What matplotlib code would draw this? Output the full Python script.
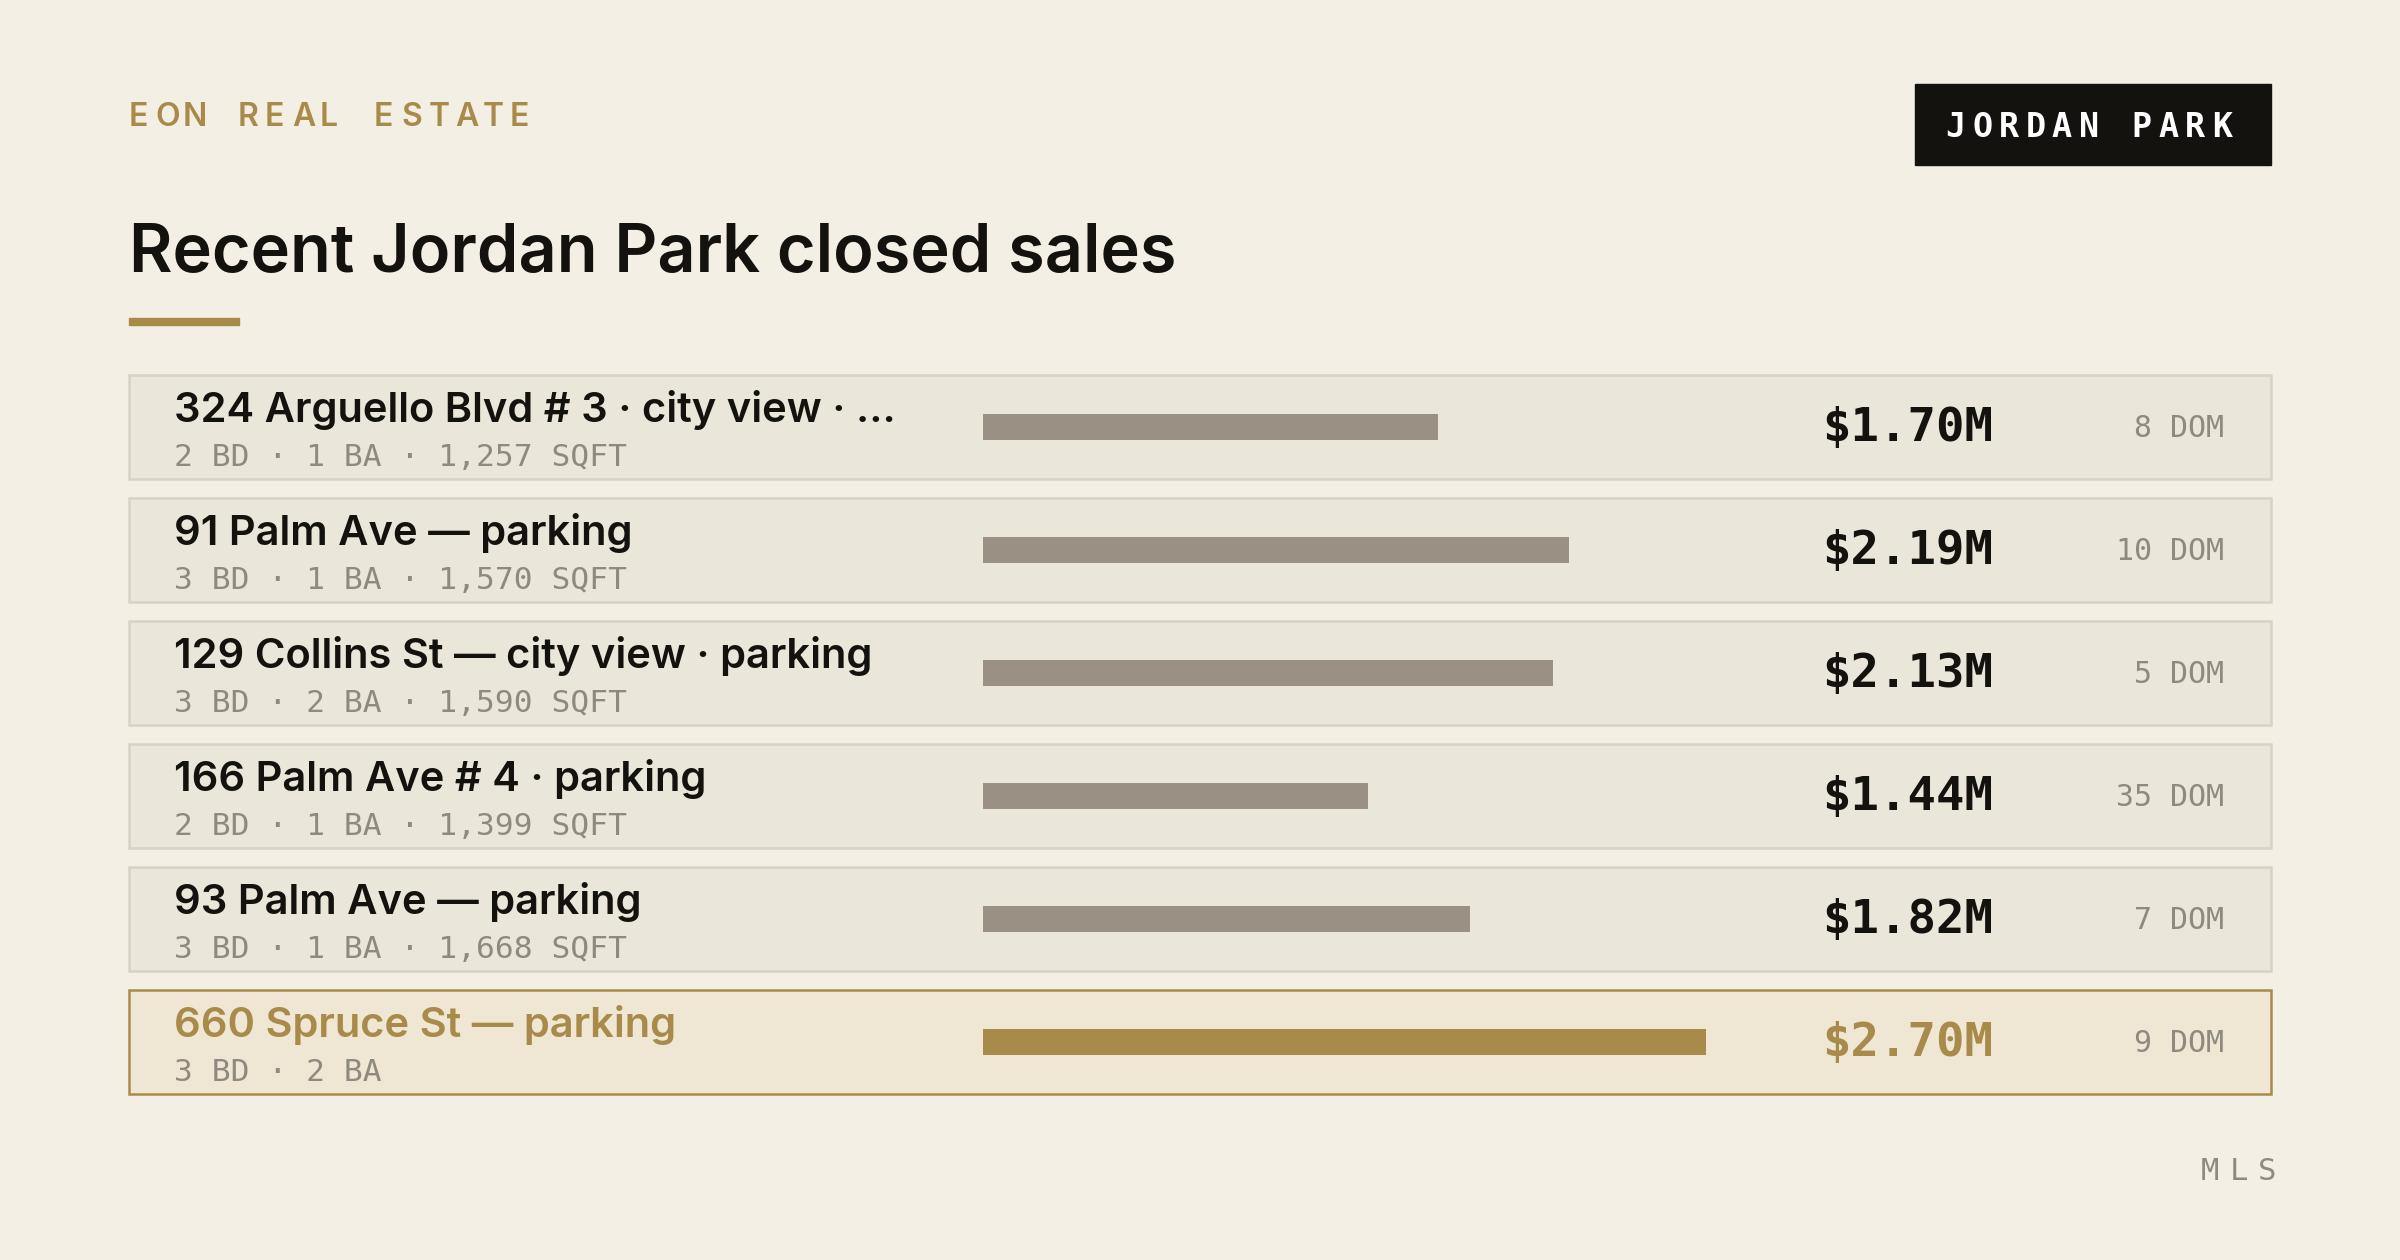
import matplotlib.pyplot as plt
from matplotlib.patches import Rectangle

# === DATA ===
addresses = ["324 Arguello Blvd # 3 \u00b7 city view \u00b7 ...", "91 Palm Ave \u2014 parking",
             "129 Collins St \u2014 city view \u00b7 parking", "166 Palm Ave # 4 \u00b7 parking",
             "93 Palm Ave \u2014 parking", "660 Spruce St \u2014 parking"]
details = ["2 BD \u00b7 1 BA \u00b7 1,257 SQFT", "3 BD \u00b7 1 BA \u00b7 1,570 SQFT",
           "3 BD \u00b7 2 BA \u00b7 1,590 SQFT", "2 BD \u00b7 1 BA \u00b7 1,399 SQFT",
           "3 BD \u00b7 1 BA \u00b7 1,668 SQFT", "3 BD \u00b7 2 BA"]
prices = [1.70, 2.19, 2.13, 1.44, 1.82, 2.70]  # $M
dom = [8, 10, 5, 35, 7, 9]
highlight = 5

BG = "#f3efe4"
ROW = "#ebe6da"
ROW_EDGE = "#d8d2c6"
HI_ROW = "#efe6d4"
GOLD = "#a88a4a"
BAR = "#9a9184"
INK = "#14120e"
GRAY = "#8f8a80"

SANS = ["Inter", "DejaVu Sans"]
MONO = ["DejaVu Sans Mono"]

fig = plt.figure(figsize=(24, 12.6), dpi=100, facecolor=BG)
ax = fig.add_axes([0, 0, 1, 1])
ax.set_xlim(0, 1568)
ax.set_ylim(823, 0)
ax.axis("off")

def tracked(x, y, s, step, right=False, **kw):
    # letter-spaced text drawn char by char
    if right:
        x = x - step * (len(s) - 1)
    for i, ch in enumerate(s):
        ax.text(x + i * step, y, ch, ha="left", va="center", **kw)

# header
tracked(84, 77, "EON REAL ESTATE", 17.8, fontsize=23, color=GOLD, family=SANS, fontweight="semibold")
ax.add_patch(Rectangle((1251, 55), 233, 53, color=INK))
tracked(1271, 83, "JORDAN PARK", 17.4, fontsize=24, color="white", family=MONO, fontweight="bold")
ax.text(84, 166, "Recent Jordan Park closed sales", fontsize=48, fontweight="semibold",
        color=INK, family=SANS, va="center", ha="left")
ax.add_patch(Rectangle((84, 208), 72, 4.5, color=GOLD))

# rows
bar_x0 = 642
px_per_m = 175.0
for i in range(len(prices)):
    top = 245 + i * 80.3
    hi = i == highlight
    ax.add_patch(Rectangle((84, top), 1400, 68, facecolor=HI_ROW if hi else ROW,
                           edgecolor=GOLD if hi else ROW_EDGE, linewidth=1.8))
    ax.text(114, top + 23, addresses[i], fontsize=30, fontweight="semibold",
            color=GOLD if hi else INK, family=SANS, va="center")
    ax.text(114, top + 54, details[i], fontsize=22.5, color=GRAY, family=MONO, va="center")
    ax.barh(top + 34, prices[i] * px_per_m, left=bar_x0, height=17,
            color=GOLD if hi else BAR)
    ax.text(1302, top + 35, f"${prices[i]:.2f}M", fontsize=34, fontweight="bold",
            color=GOLD if hi else INK, family=MONO, ha="right", va="center")
    ax.text(1453, top + 35, f"{dom[i]} DOM", fontsize=21.5, color=GRAY, family=MONO,
            ha="right", va="center")

tracked(1475, 765, "MLS", 18.5, right=True, fontsize=22, color=GRAY, family=MONO)

fig.savefig("out.png", dpi=100, facecolor=BG)
